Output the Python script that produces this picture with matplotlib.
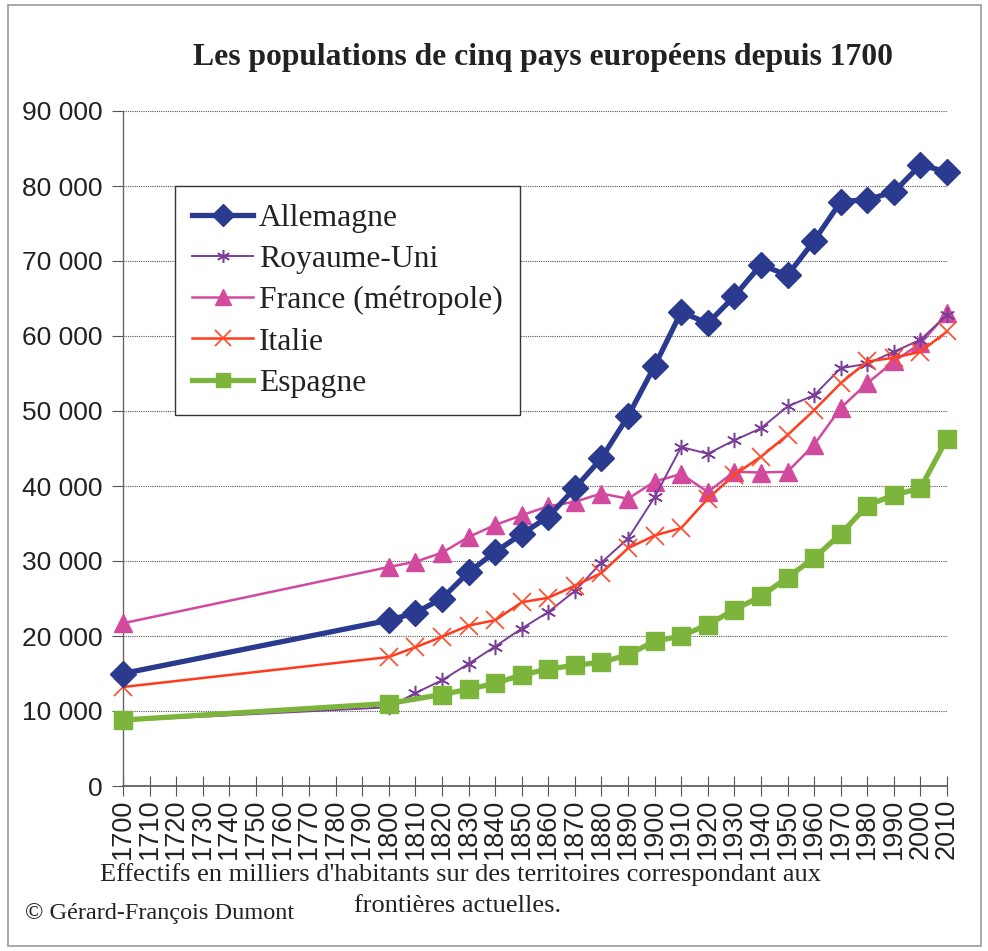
import matplotlib
matplotlib.use("Agg")
import matplotlib.pyplot as plt
from matplotlib.ticker import FuncFormatter, MultipleLocator
from matplotlib.patches import Rectangle
import numpy as np

years = [1700, 1710, 1720, 1730, 1740, 1750, 1760, 1770, 1780, 1790,
         1800, 1810, 1820, 1830, 1840, 1850, 1860, 1870, 1880, 1890,
         1900, 1910, 1920, 1930, 1940, 1950, 1960, 1970, 1980, 1990,
         2000, 2010]

N = None
allemagne = [15000, N, N, N, N, N, N, N, N, N,
             22100, 23100, 25000, 28500, 31200, 33600, 35900, 39700, 43700, 49300,
             56000, 63200, 61700, 65300, 69500, 68100, 72700, 77900, 78200, 79200,
             82800, 81900]
royaume_uni = [8700, N, N, N, N, N, N, N, N, N,
               10500, 12400, 14100, 16300, 18600, 21000, 23200, 26000, 29800, 33000,
               38500, 45200, 44300, 46100, 47700, 50600, 52100, 55700, 56300, 57900,
               59500, 62800]
france = [21700, N, N, N, N, N, N, N, N, N,
          29200, 29900, 31100, 33200, 34800, 36100, 37300, 37900, 39000, 38300,
          40600, 41600, 39200, 41900, 41800, 41900, 45500, 50400, 53700, 56600,
          59000, 63000]
italie = [13200, N, N, N, N, N, N, N, N, N,
          17200, 18500, 19900, 21400, 22100, 24500, 25100, 26700, 28400, 31700,
          33400, 34400, 38300, 41500, 43900, 46800, 50100, 53700, 56600, 57100,
          57900, 60600]
espagne = [8800, N, N, N, N, N, N, N, N, N,
           11000, N, 12200, 12900, 13700, 14800, 15600, 16100, 16500, 17500,
           19300, 20000, 21500, 23500, 25300, 27800, 30400, 33600, 37400, 38800,
           39700, 46300]

series = [
    ("Allemagne", allemagne, dict(color="#2A3A8F", lw=3.8, marker="D", ms=13, mec="#2A3A8F", mfc="#2A3A8F", zorder=6)),
    ("Royaume-Uni", royaume_uni, dict(color="#7A3E98", lw=1.4, marker=(6, 2, 0), ms=11, mec="#7A3E98", mew=1.1, zorder=4)),
    ("France (métropole)", france, dict(color="#D24A9E", lw=1.8, marker="^", ms=13, mec="#D24A9E", mfc="#D24A9E", zorder=3)),
    ("Italie", italie, dict(color="#FF3A1E", lw=1.8, marker="x", ms=13, mec="#FF4A2A", mew=1.2, zorder=5)),
    ("Espagne", espagne, dict(color="#7DB43C", lw=3.8, marker="s", ms=12.5, mec="#7DB43C", mfc="#7DB43C", zorder=7)),
]

W, H = 988, 951
fig = plt.figure(figsize=(W / 100, H / 100), dpi=100)
fig.patch.set_facecolor("white")

# outer frame
fig.patches.append(Rectangle((8 / W, 1 - 946 / H), 973 / W, 941 / H, transform=fig.transFigure,
                             fill=False, edgecolor="#9a9a9a", lw=1.2))

ax = fig.add_axes([123 / W, 1 - 786 / H, 824 / W, 675 / H])
ax.set_xlim(0, len(years) - 1)
ax.set_ylim(0, 90000)

handles = []
for name, vals, st in series:
    xs = [i for i, v in enumerate(vals) if v is not None]
    ys = [v for v in vals if v is not None]
    ln, = ax.plot(xs, ys, label=name, solid_joinstyle="round", clip_on=False, **st)
    handles.append(ln)

ax.yaxis.set_major_locator(MultipleLocator(10000))
ax.yaxis.set_major_formatter(FuncFormatter(lambda v, p: f"{int(v):,}".replace(",", " ")))
ax.set_xticks(range(len(years)))
ax.set_xticklabels([str(y) for y in years], rotation=90, fontsize=19.5,
                   family="Liberation Sans")
for lab in ax.get_yticklabels():
    lab.set_family("Liberation Sans")
    lab.set_fontsize(19)

ax.grid(axis="y", color="#555555", linestyle=(0, (1, 1)), lw=0.8)
ax.set_axisbelow(True)
for s in ["top", "right"]:
    ax.spines[s].set_visible(False)
ax.spines["left"].set_color("#666666")
ax.spines["bottom"].set_color("#555555")
ax.spines["left"].set_linewidth(1.0)
ax.spines["bottom"].set_linewidth(1.2)
ax.tick_params(axis="x", direction="inout", length=14, width=0.8, color="#555555", pad=2, labelcolor="#222222")
ax.tick_params(axis="y", direction="out", length=8, width=0.8, color="#555555", pad=7, labelcolor="#222222")

fig.text(543 / W, 1 - 57 / H, "Les populations de cinq pays européens depuis 1700",
         ha="center", va="center", fontsize=22.8, fontweight="bold",
         family="Liberation Serif", color="#222222")

leg = fig.legend(handles=handles, loc="upper left", bbox_to_anchor=(175 / W, 1 - 186 / H),
                 bbox_transform=fig.transFigure, prop={"family": "Liberation Serif", "size": 22.8},
                 frameon=True, fancybox=False, edgecolor="#333333", framealpha=1,
                 handlelength=1.9, handletextpad=0.2, labelspacing=0.38, borderpad=0.55,
                 borderaxespad=0, markerscale=0.85)
leg.get_frame().set_linewidth(1.0)
for t in leg.get_texts():
    t.set_color("#222222")

fig.text(460 / W, 1 - 875 / H, "Effectifs en milliers d'habitants sur des territoires correspondant aux",
         ha="center", va="center", fontsize=19, family="Liberation Serif", color="#222222")
fig.text(458 / W, 1 - 906 / H, "frontières actuelles.",
         ha="center", va="center", fontsize=19, family="Liberation Serif", color="#222222")
fig.text(25 / W, 1 - 913 / H, "© Gérard-François Dumont",
         ha="left", va="center", fontsize=17.5, family="Liberation Serif", color="#222222")

fig.savefig("out.png", dpi=100)
